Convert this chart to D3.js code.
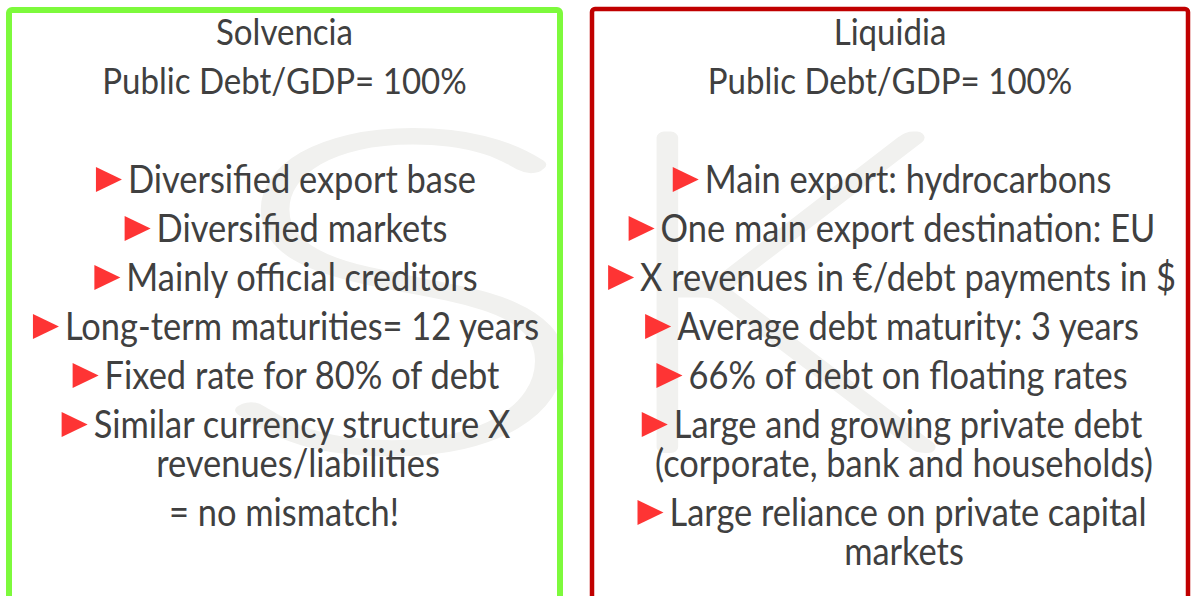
<!DOCTYPE html>
<html>
<head>
<meta charset="utf-8">
<script src="https://cdn.jsdelivr.net/npm/d3@7"></script>
<style>
  html, body { margin: 0; padding: 0; background: #fff; }
  svg { display: block; }
</style>
</head>
<body>
<div id="slide"></div>
<script>
'use strict';

// slide content
const leftTitle = ['Solvencia', 'Public Debt/GDP= 100%'];
const leftItems = [
    ['Diversified export base'],
    ['Diversified markets'],
    ['Mainly official creditors'],
    ['Long-term maturities= 12 years'],
    ['Fixed rate for 80% of debt'],
    ['Similar currency structure X', 'revenues/liabilities'],
];
const leftNote = ['= no mismatch!'];

const rightTitle = ['Liquidia', 'Public Debt/GDP= 100%'];
const rightItems = [
    ['Main export: hydrocarbons'],
    ['One main export destination: EU'],
    ['X revenues in €/debt payments in $'],
    ['Average debt maturity: 3 years'],
    ['66% of debt on floating rates'],
    ['Large and growing private debt', '(corporate, bank and households)'],
    ['Large reliance on private capital', 'markets'],
];
const rightNote = [];

const watermark = ['S', 'K'];

let width = 1191,
    height = 596,
    textColor = '#404040',
    bulletColor = '#fe3434',
    font = 'Lato, Carlito, "Open Sans", sans-serif',
    titleY = 45,
    titleStep = 49,
    firstRowY = 193,
    rowStep = 49,
    wrapStep = 39,
    triW = 26,
    triH = 25,
    triGap = 6,
    condense = 0.9,
    svg = d3.select('#slide').append('svg')
        .attr('width', width)
        .attr('height', height);

svg.append('rect')
    .attr('width', width)
    .attr('height', height)
    .attr('fill', '#fff');

// font size so that a long line is as wide as on the slide (after condensing)
let probe = svg.append('text')
    .attr('font-family', font)
    .attr('font-size', 100)
    .text('X revenues in €/debt payments in $');
let fontSize = 100 * 536 / (probe.node().getComputedTextLength() * condense);
probe.remove();

// watermark letters
let wm = svg.append('g')
    .attr('fill', '#f1f1ef')
    .attr('stroke', '#f1f1ef')
    .attr('stroke-width', 12)
    .attr('stroke-linejoin', 'round')
    .attr('font-family', 'Lato, sans-serif')
    .attr('font-weight', 100)
    .attr('font-size', 442);

wm.append('text')
    .attr('transform', 'translate(204, 447) scale(1.7, 1)')
    .text(watermark[0]);
wm.append('text')
    .attr('transform', 'translate(600, 447) scale(1.25, 1)')
    .text(watermark[1]);

let panels = [
    {x0: 9, x1: 560, y0: 10, stroke: '#7dfa3c', sw: 6, center: 286,
        title: leftTitle, items: leftItems, note: leftNote},
    {x0: 592, x1: 1188, y0: 9, stroke: '#c00000', sw: 4.5, center: 892,
        title: rightTitle, items: rightItems, note: rightNote},
];

function addText(parent, x, y, str, anchor) {
    return parent.append('text')
        .attr('transform', `translate(${x}, ${y}) scale(${condense}, 1)`)
        .attr('text-anchor', anchor)
        .text(str);
}

function drawPanel(p) {
    let g = svg.append('g');

    g.append('rect')
        .attr('x', p.x0)
        .attr('y', p.y0)
        .attr('width', p.x1 - p.x0)
        .attr('height', height + 40)
        .attr('rx', 3)
        .attr('fill', 'none')
        .attr('stroke', p.stroke)
        .attr('stroke-width', p.sw);

    let txt = g.append('g')
        .attr('font-family', font)
        .attr('font-size', fontSize)
        .attr('fill', textColor);

    let boxCenter = (p.x0 + p.x1) / 2;

    p.title.forEach((line, i) => {
        addText(txt, boxCenter, titleY + i * titleStep, line, 'middle')
            .attr('font-size', fontSize * 0.96);
    });

    let y = firstRowY;
    p.items.forEach(lines => {
        let first = addText(txt, 0, y, lines[0], 'start');
        let w = first.node().getComputedTextLength() * condense,
            left = p.center - (triW + triGap + w) / 2;
        first.attr('transform', `translate(${left + triW + triGap}, ${y}) scale(${condense}, 1)`);

        g.append('path')
            .attr('d', d3.line()([
                [left, y - triH - 1],
                [left + triW, y - 1 - triH / 2],
                [left, y - 1],
            ]) + 'Z')
            .attr('fill', bulletColor);

        lines.slice(1).forEach(line => {
            y += wrapStep;
            addText(txt, p.center + 12, y, line, 'middle');
        });
        y += rowStep;
    });

    p.note.forEach(line => {
        addText(txt, p.center - 2, y, line, 'middle');
        y += rowStep;
    });
}

panels.forEach(drawPanel);
</script>
</body>
</html>
